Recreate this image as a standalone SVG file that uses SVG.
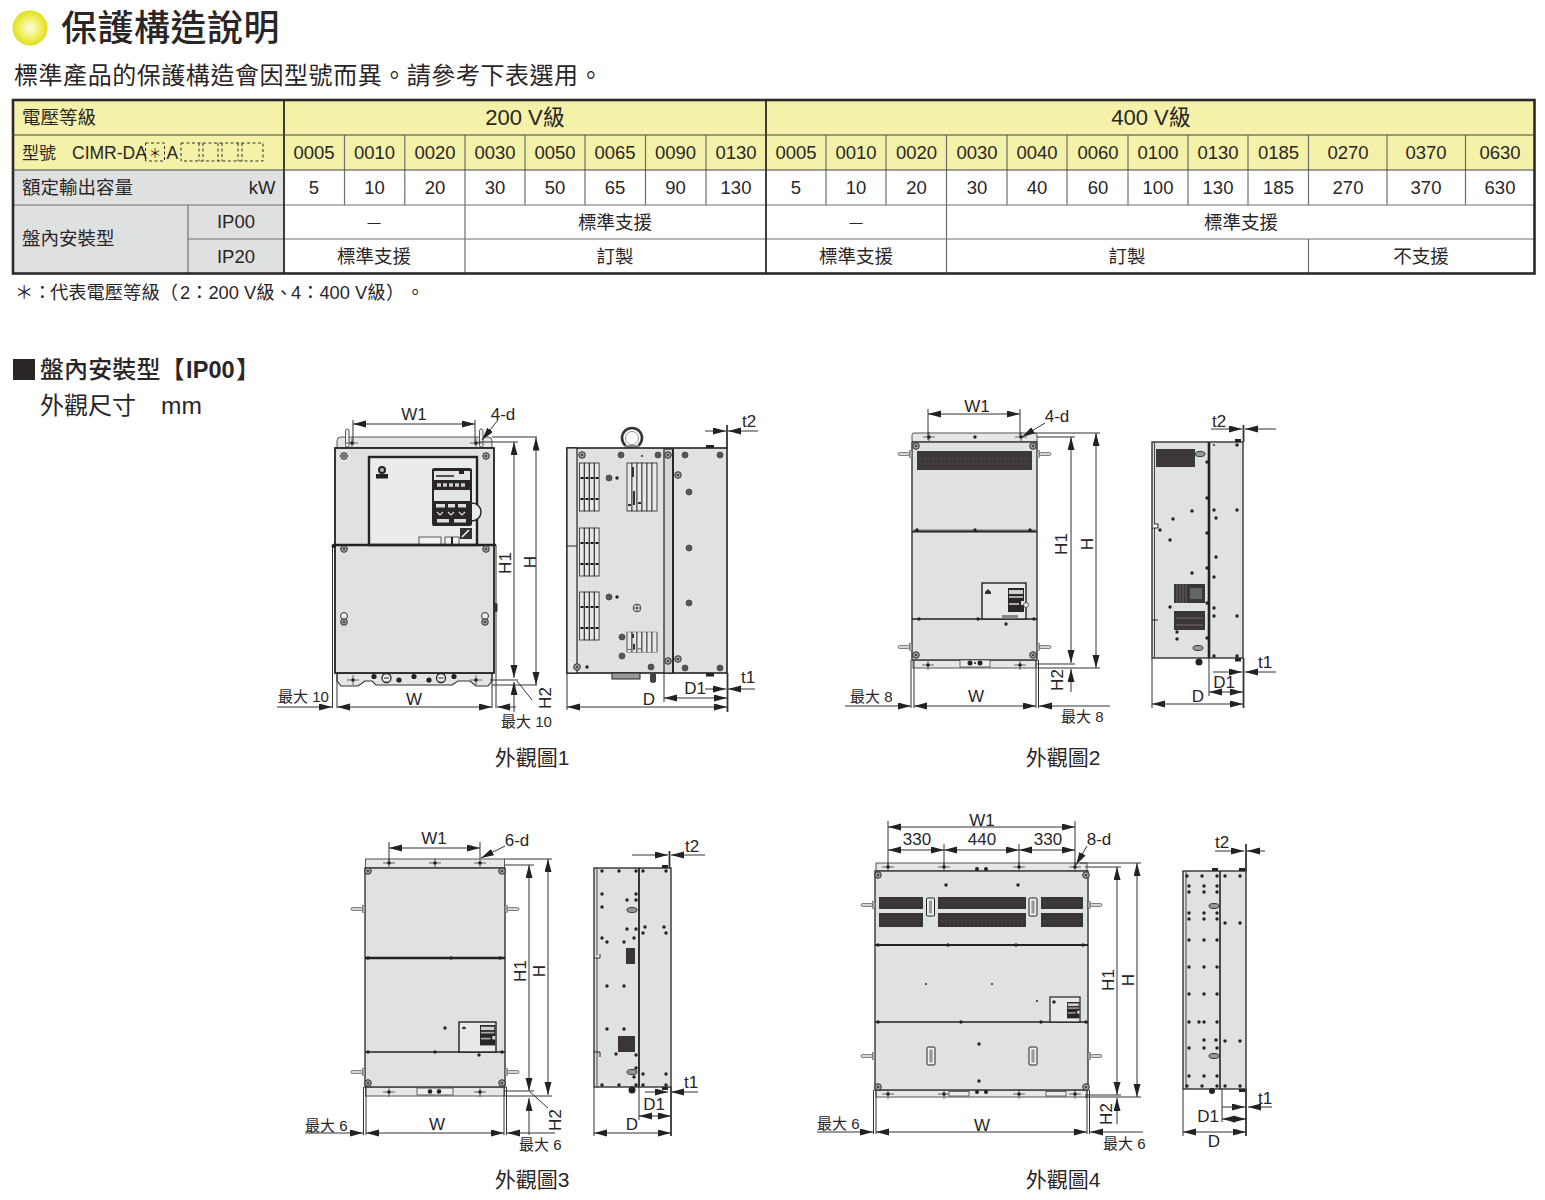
<svg xmlns="http://www.w3.org/2000/svg" width="1545" height="1200" viewBox="0 0 1545 1200">
<style>
text{font-family:"Liberation Sans","Noto Sans CJK TC",sans-serif;fill:#2a2526}
.m{text-anchor:middle}
.tb{font-size:18.5px}
.dt{font-size:17px;text-anchor:middle}
.mx{font-size:15px}
.cap{font-size:21px;text-anchor:middle}
.y{fill:#f4f1a9}.g{fill:#dfe0e0}.w{fill:#fff}
.in{stroke:#6f6f6f;stroke-width:1.2;fill:none}
.ou{stroke:#2b2829;stroke-width:2.6;fill:none}
.d{stroke:#333;stroke-width:1;fill:none;marker-start:url(#a);marker-end:url(#a)}
.s{stroke:#333;stroke-width:1;fill:none;marker-end:url(#a)}
.l{stroke:#333;stroke-width:1;fill:none}
.t{stroke:#333;stroke-width:1.8;fill:none}
.b{fill:#e0e1e1;stroke:#333;stroke-width:1.4}
.br{fill:#e6e6e6;stroke:#555;stroke-width:1}
.k{fill:#222}
.dk{fill:#3a3637}
.vs{fill:#e8e8e8;stroke:#222;stroke-width:.8}
</style>
<defs>
<radialGradient id="ball"><stop offset="0" stop-color="#fdfde8"/><stop offset=".55" stop-color="#f2f06a"/><stop offset="1" stop-color="#dfe01c"/></radialGradient>
<marker id="a" markerUnits="userSpaceOnUse" markerWidth="14" markerHeight="8" refX="13" refY="3.5" orient="auto-start-reverse"><path d="M0,0 L13,3.5 L0,7 z" fill="#222"/></marker>
<g id="sc"><circle r="3.3" fill="#9a9a9a" stroke="#333" stroke-width="1"/><circle r="1.1" fill="#333"/></g>
<g id="sd"><circle r="3" fill="#555" stroke="#444" stroke-width=".8"/></g>
<circle id="dot" r="1.7" fill="#222"/>
<circle id="sm" r="1.1" fill="#333"/>
<g id="cr"><path d="M-6,0H6M0,-5V5" stroke="#444" stroke-width=".8"/><circle r="1.8" fill="#222"/></g>
<g id="lugl"><rect x="-14" y="-1.5" width="12" height="3" rx="1.5" fill="#d4d4d4" stroke="#555" stroke-width=".7"/><rect x="-2.5" y="-3.5" width="2.5" height="7" fill="#aaa" stroke="#555" stroke-width=".5"/></g>
<g id="lugr"><rect x="2" y="-1.5" width="12" height="3" rx="1.5" fill="#d4d4d4" stroke="#555" stroke-width=".7"/><rect x="0" y="-3.5" width="2.5" height="7" fill="#aaa" stroke="#555" stroke-width=".5"/></g>
<g id="v4"><rect x="0" width="4.6" height="48" class="vs"/><rect x="5" width="4.6" height="48" class="vs"/><rect x="10" width="4.6" height="48" class="vs"/><rect x="15" width="4.6" height="48" class="vs"/><path d="M1,15h3M6,15h3M11,15h3M16,15h3M1,36h3M6,36h3M11,36h3M16,36h3" stroke="#111" stroke-width="2.2"/></g>
<g id="v6"><rect x="0" width="5" height="48" class="vs"/><rect x="5" width="5" height="48" class="vs"/><rect x="10" width="5" height="48" class="vs"/><rect x="15" width="5" height="48" class="vs"/><rect x="20" width="5" height="48" class="vs"/><rect x="25" width="5" height="48" class="vs"/><path d="M6,4v10M7,28v14M1,42h3M11,40h3" stroke="#333" stroke-width="2"/></g>
<g id="keys"><rect width="16" height="24" fill="#2a2627"/><rect x="1" y="2" width="14" height="4" fill="#cfcfcf"/><rect x="1" y="8" width="14" height="2" fill="#aaa"/><rect x="1" y="15" width="10" height="2" fill="#aaa"/><rect x="13" y="13" width="3" height="4" fill="#ddd"/></g>
<g id="hd"><rect x="-4" y="-9" width="8" height="18" rx="1" fill="#f1f1f1" stroke="#222" stroke-width="1"/><rect x="-1.6" y="-6.5" width="3.2" height="13" fill="#999"/></g>
<ellipse id="ov" rx="5" ry="2.5" fill="#999" stroke="#222" stroke-width=".9"/>
</defs>

<g id="heading">
<circle cx="30" cy="28" r="17.5" fill="url(#ball)"/>
<text x="61" y="41" font-size="36" font-weight="500" letter-spacing="0.5">保護構造說明</text>
<text x="14" y="84" font-size="24" letter-spacing="0.55">標準產品的保護構造會因型號而異。請參考下表選用。</text>
</g>

<g id="spec-table">
<rect x="12" y="99" width="1523" height="71" class="y"/>
<rect x="12" y="170" width="272" height="104" class="g"/>
<g class="in">
<path d="M284,205H1535M188,239H1535"/>
<path d="M344.5,135V205M404.8,135V205M525,135V205M585,135V205M645.5,135V205M706,135V205M826,135V205M886,135V205M1007,135V205M1067,135V205M1128,135V205M1188,135V205M1248,135V205M1308.5,135V205M1387,135V205M1465.5,135V205"/>
<path d="M465,135V274M946.5,135V274M1308.5,239V274M188,205V274"/>
<path d="M12,205H284"/>
</g>
<path d="M284,99V274M766,99V274" stroke="#2b2829" stroke-width="1.8" fill="none"/>
<rect x="13" y="100" width="1521.5" height="173.5" class="ou"/>
<path d="M12,135H1535M12,170H1535" stroke="#444" stroke-width="1.2"/>
<text x="22" y="124" class="tb">電壓等級</text>
<text x="525" y="125" font-size="22" class="m">200 V級</text>
<text x="1151" y="125" font-size="22" class="m">400 V級</text>
<text x="22" y="158.500" font-size="17">型號</text>
<text x="72" y="158.500" font-size="17.500">CIMR-DA</text>
<rect x="145.500" y="143" width="19" height="18" fill="none" stroke="#333" stroke-width="1" stroke-dasharray="3 2.500"/>
<text x="155" y="158" font-size="13" class="m">＊</text>
<text x="166.500" y="158.500" font-size="17.500">A</text>
<path d="M181,143H263V161H181ZM199,143v18M203,143v18M218,143v18M222,143v18M238,143v18M242,143v18" fill="none" stroke="#333" stroke-width="1" stroke-dasharray="3 2.500"/>
<g class="tb m">
<text x="314" y="158.500">0005</text><text x="374.500" y="158.500">0010</text><text x="435" y="158.500">0020</text><text x="495" y="158.500">0030</text><text x="555" y="158.500">0050</text><text x="615" y="158.500">0065</text><text x="675.500" y="158.500">0090</text><text x="736" y="158.500">0130</text>
<text x="796" y="158.500">0005</text><text x="856" y="158.500">0010</text><text x="916.500" y="158.500">0020</text><text x="977" y="158.500">0030</text><text x="1037" y="158.500">0040</text><text x="1098" y="158.500">0060</text><text x="1158" y="158.500">0100</text><text x="1218" y="158.500">0130</text><text x="1278.500" y="158.500">0185</text><text x="1348" y="158.500">0270</text><text x="1426" y="158.500">0370</text><text x="1500" y="158.500">0630</text>
<text x="314" y="193.500">5</text><text x="374.500" y="193.500">10</text><text x="435" y="193.500">20</text><text x="495" y="193.500">30</text><text x="555" y="193.500">50</text><text x="615" y="193.500">65</text><text x="675.500" y="193.500">90</text><text x="736" y="193.500">130</text>
<text x="796" y="193.500">5</text><text x="856" y="193.500">10</text><text x="916.500" y="193.500">20</text><text x="977" y="193.500">30</text><text x="1037" y="193.500">40</text><text x="1098" y="193.500">60</text><text x="1158" y="193.500">100</text><text x="1218" y="193.500">130</text><text x="1278.500" y="193.500">185</text><text x="1348" y="193.500">270</text><text x="1426" y="193.500">370</text><text x="1500" y="193.500">630</text>
<text x="236" y="228">IP00</text><text x="236" y="263">IP20</text>
<text x="615" y="228.500">標準支援</text><text x="1241" y="228.500">標準支援</text>
<text x="374" y="263">標準支援</text><text x="615" y="263">訂製</text><text x="856" y="263">標準支援</text><text x="1127" y="263">訂製</text><text x="1421" y="263">不支援</text>
</g>
<text x="374" y="227" font-size="13" class="m">—</text><text x="856" y="227" font-size="13" class="m">—</text>
<text x="22" y="194" class="tb">額定輸出容量</text>
<text x="262" y="193.500" class="tb m">kW</text>
<text x="22" y="245" class="tb">盤內安裝型</text>
</g>
<text id="table-note" y="299" font-size="18.300"><tspan x="15">＊：</tspan><tspan x="50">代表電壓等級（</tspan><tspan x="180">2：200 V級、</tspan><tspan x="291">4：400 V級</tspan><tspan x="386">）</tspan><tspan x="406">。</tspan></text>

<g id="section-head">
<rect x="13" y="359" width="22" height="21" fill="#2a2526"/>
<text x="40" y="378" font-size="24" font-weight="500" letter-spacing="0.1">盤內安裝型【<tspan x="186" font-weight="700" font-size="23.500">IP00</tspan><tspan x="236">】</tspan></text>
<text x="40" y="414" font-size="24">外觀尺寸</text>
<text x="161" y="414" font-size="24.500">mm</text>
</g>

<g id="outline-1">
<g id="o1-front">
<path d="M337,448V441Q337,437 341,437H488Q492,437 492,441V448Z" class="br"/>
<path d="M337,673V681L341,686H358L365,681H372L376,685H452L458,681H470L476,686H488L492,681V673Z" fill="#e4e4e4" stroke="#333" stroke-width="1.200"/>
<rect x="335" y="448" width="159" height="225" fill="#e0e1e1" stroke="#222" stroke-width="1.800"/>
<rect x="369" y="457" width="108" height="88" fill="#ebebeb" stroke="#222" stroke-width="2.400"/>
<path d="M333,545H496" stroke="#222" stroke-width="2.400"/>
<path d="M332.500,545V708M337,673V708M492,673V708M496,545V708" class="l"/>
<circle cx="472" cy="512" r="9" fill="#ebebeb" stroke="#222" stroke-width="1.400"/>
<rect x="432" y="468" width="40" height="58" rx="2" fill="#2a2627"/>
<rect x="434" y="471" width="36" height="9" fill="#e4e4e4"/><path d="M436,476h18" stroke="#222" stroke-width="1.500"/><rect x="459" y="471" width="5" height="3" fill="#222"/>
<path d="M437,485h28" stroke="#ccc" stroke-width="3.500" stroke-dasharray="4 2"/>
<rect x="434" y="490" width="36" height="11" fill="#e4e4e4"/>
<rect x="436" y="504" width="9" height="3.500" fill="#ddd"/><rect x="448" y="504" width="7" height="3.500" fill="#ddd"/><rect x="458" y="504" width="8" height="3.500" fill="#ddd"/>
<path d="M437,512l3,3l3,-3M448,512l3,3l3,-3M459,512l3,3l3,-3" stroke="#ddd" stroke-width="1.200" fill="none"/>
<rect x="437" y="519" width="12" height="3.500" fill="#ddd"/><rect x="454" y="519" width="12" height="3.500" fill="#ddd"/>
<circle cx="382" cy="470" r="3" fill="#bbb" stroke="#222" stroke-width="2"/><rect x="376" y="474" width="12" height="4.500" fill="#222"/>
<rect x="419" y="537" width="22" height="7" fill="#f2f2f2" stroke="#333" stroke-width=".8"/>
<rect x="445" y="537" width="14" height="7" fill="#f2f2f2" stroke="#333" stroke-width=".8"/><path d="M452,537v7" stroke="#222" stroke-width="2"/>
<rect x="460" y="528" width="12" height="11" fill="#333"/><path d="M462,537l7,-7" stroke="#fff" stroke-width="1.500"/>
<use href="#sc" x="344" y="456"/><use href="#sc" x="486" y="456"/><use href="#sc" x="344" y="549"/><use href="#sc" x="486" y="549"/>
<circle cx="344" cy="616" r="3.500" fill="#f1f1f1" stroke="#333"/><use href="#sc" x="344" y="622"/>
<circle cx="485" cy="616" r="3.500" fill="#f1f1f1" stroke="#333"/><use href="#sc" x="485" y="622"/>
<rect x="494" y="603" width="3.500" height="9" rx="1.500" fill="#333"/>
<circle cx="333.500" cy="546" r="2" fill="#222"/>
<rect x="345.500" y="429" width="3.500" height="18" rx="1.700" fill="#eee" stroke="#444" stroke-width=".9"/>
<rect x="479.500" y="429" width="3.500" height="18" rx="1.700" fill="#eee" stroke="#444" stroke-width=".9"/>
<use href="#cr" x="352" y="443"/><use href="#cr" x="476" y="443"/><use href="#cr" x="353" y="680"/><use href="#cr" x="476" y="680"/>
<circle cx="386.500" cy="678" r="4.500" fill="#eee" stroke="#222" stroke-width="1.300"/><path d="M384,678h5" stroke="#222"/>
<circle cx="441" cy="678" r="4.500" fill="#eee" stroke="#222" stroke-width="1.300"/><path d="M438.500,678h5" stroke="#222"/>
<circle cx="374" cy="676.500" r="2.600" class="k"/><circle cx="399" cy="680" r="2.600" class="k"/><circle cx="414" cy="676.500" r="2.600" class="k"/><circle cx="429" cy="680" r="2.600" class="k"/><circle cx="454" cy="676.500" r="2.600" class="k"/>
</g>
<g id="o1-side">
<circle cx="632" cy="438" r="10" fill="#fff" stroke="#333" stroke-width="2.600"/><circle cx="632" cy="438" r="6.500" fill="#fff" stroke="#777" stroke-width=".8"/><rect x="625" y="445" width="14" height="3.500" fill="#888"/>
<rect x="567" y="448" width="160" height="225" fill="#e0e1e1" stroke="#222" stroke-width="1.600"/>
<rect x="567" y="448" width="10" height="225" fill="#e9e9e9" stroke="#222" stroke-width="1.200"/>
<path d="M567,546H577" stroke="#222"/>
<rect x="664" y="449" width="9" height="224" fill="#d5d5d5" stroke="#222" stroke-width="1.200"/>
<path d="M673,449V673" stroke="#222" stroke-width="1.800"/>
<use href="#v4" x="579.500" y="463"/><use href="#v4" x="579.500" y="528"/><use href="#v4" x="579.500" y="592"/>
<use href="#v6" x="627" y="463"/>
<g transform="translate(627,632) scale(1,.42)"><use href="#v6"/></g>
<use href="#sc" x="582" y="455"/><use href="#sd" x="621" y="455"/><use href="#sd" x="658" y="455"/><use href="#sm" x="642" y="456"/><use href="#sc" x="668" y="455"/><use href="#sd" x="685" y="455"/><use href="#sd" x="720" y="455"/>
<use href="#sc" x="678" y="475"/><use href="#sd" x="689" y="492"/><use href="#sd" x="689" y="548"/><use href="#sd" x="689" y="603"/><use href="#sc" x="678" y="659"/><use href="#sc" x="668" y="661"/><use href="#sd" x="685" y="668"/><use href="#sd" x="720" y="668"/>
<use href="#sd" x="609" y="478"/><use href="#sd" x="609" y="597"/><use href="#dot" x="617" y="478"/><use href="#dot" x="617" y="597"/><use href="#sd" x="622" y="637"/><use href="#sd" x="622" y="656"/><use href="#sd" x="651" y="667"/><use href="#sc" x="577" y="667"/><use href="#dot" x="587" y="667"/>
<circle cx="637" cy="608" r="3.800" fill="#eee" stroke="#222" stroke-width=".9"/><path d="M634,608h6M637,605v6" stroke="#222" stroke-width=".8"/>
<rect x="612" y="673" width="28" height="6" fill="#999" stroke="#222"/><rect x="650" y="673" width="6" height="9" fill="#444"/><circle cx="653" cy="680" r="3" fill="#444"/>
<rect x="706" y="445" width="8" height="3" class="k"/><rect x="706" y="673" width="8" height="3.500" class="k"/>
</g>
</g>

<g id="outline-2">
<g id="o2-front">
<rect x="912" y="433" width="125" height="9" rx="2" class="br"/>
<rect x="913" y="660" width="123" height="8" class="br"/>
<rect x="912" y="442" width="125" height="218" class="b"/>
<use href="#lugl" x="912" y="454"/><use href="#lugr" x="1037" y="454"/><use href="#lugl" x="912" y="647"/><use href="#lugr" x="1037" y="647"/>
<rect x="917" y="451" width="115" height="19" fill="#3c3738"/><path d="M920,459H1029M920,464H1029" stroke="#555" stroke-width=".8" stroke-dasharray="2 2"/>
<path d="M912,531H1037" stroke="#222" stroke-width="3"/><path d="M912,530H1037" stroke="#eee" stroke-width=".7"/>
<path d="M912,619H1037" stroke="#222" stroke-width="1.400"/>
<rect x="982" y="583" width="44" height="36" fill="#e8e8e8" stroke="#222" stroke-width="1.400"/>
<use href="#keys" x="1008" y="588"/><rect x="1002" y="615" width="16" height="3.500" fill="#888"/><circle cx="1026" cy="605" r="2.500" fill="#eee" stroke="#222" stroke-width=".7"/>
<path d="M985,592l3,-3l3,3v2h-6z" fill="#333"/>
<use href="#sc" x="916" y="446"/><use href="#sc" x="1033" y="446"/><use href="#sc" x="916" y="655"/><use href="#sc" x="1033" y="655"/>
<use href="#cr" x="929" y="437"/><use href="#cr" x="1021" y="437"/><use href="#dot" x="975" y="437"/><use href="#cr" x="928" y="665"/><use href="#cr" x="1020" y="665"/>
<use href="#dot" x="917" y="530"/><use href="#dot" x="975" y="530"/><use href="#dot" x="1030" y="530"/><use href="#dot" x="919" y="619"/><use href="#dot" x="978" y="619"/><use href="#dot" x="1034" y="619"/><use href="#dot" x="1006" y="624"/>
<rect x="960" y="660" width="30" height="7" fill="#eee" stroke="#444" stroke-width=".8"/><circle cx="970" cy="663" r="2.500" class="k"/><circle cx="980" cy="663" r="2.500" class="k"/><circle cx="975" cy="663" r="1" class="k"/>
<path d="M911,660V708M914,660V708M1036,660V708M1038.500,660V708" class="l"/>
</g>
<g id="o2-side">
<rect x="1152" y="442" width="91" height="216" class="b"/>
<path d="M1154.500,442V658" stroke="#444"/>
<path d="M1209,442V658" stroke="#222" stroke-width="2.600"/>
<rect x="1156" y="449" width="39" height="18" fill="#3c3738"/>
<rect x="1174" y="584" width="31" height="19" fill="#3a3637"/><path d="M1177,584v19M1180,584v19M1183,584v19M1186,584v19" stroke="#888" stroke-width=".6"/><rect x="1190" y="588" width="12" height="11" fill="#666"/>
<rect x="1174" y="611" width="31" height="19" fill="#3a3637"/><path d="M1176,618h27M1176,625h27" stroke="#888" stroke-width=".7"/>
<use href="#sm" x="1214" y="445"/><use href="#dot" x="1237" y="445"/><use href="#dot" x="1214" y="510"/><use href="#dot" x="1237" y="510"/><use href="#dot" x="1216" y="518"/><use href="#dot" x="1216" y="557"/><use href="#dot" x="1214" y="577"/><use href="#dot" x="1214" y="608"/><use href="#dot" x="1214" y="616"/><use href="#dot" x="1237" y="616"/><use href="#dot" x="1214" y="656"/><use href="#dot" x="1237" y="656"/>
<use href="#dot" x="1192" y="511"/><use href="#dot" x="1192" y="573"/><use href="#dot" x="1207" y="462"/><use href="#dot" x="1207" y="498"/><use href="#dot" x="1207" y="533"/><use href="#dot" x="1207" y="568"/><use href="#dot" x="1207" y="603"/><use href="#dot" x="1207" y="638"/>
<use href="#dot" x="1173" y="519"/><use href="#dot" x="1160" y="530"/><use href="#dot" x="1170" y="540"/><use href="#dot" x="1170" y="607"/><use href="#dot" x="1177" y="632"/><use href="#dot" x="1177" y="639"/>
<use href="#ov" x="1200" y="454"/><use href="#ov" x="1198" y="648"/>
<path d="M1152,528h6v-4h-3" stroke="#222" fill="#fff"/><path d="M1152,620h6" stroke="#222"/>
<circle cx="1199" cy="662" r="3.500" class="k"/><rect x="1235" y="439" width="6" height="3" class="k"/><rect x="1235" y="658" width="6" height="3.500" class="k"/>
</g>
</g>

<g id="outline-3">
<g id="o3-front">
<rect x="365.500" y="859" width="139" height="9" class="br"/>
<rect x="365.500" y="1087" width="139" height="9" class="br"/>
<rect x="365" y="868" width="140" height="219" class="b"/>
<use href="#lugl" x="365" y="909"/><use href="#lugr" x="505" y="909"/><use href="#lugl" x="365" y="1072"/><use href="#lugr" x="505" y="1072"/>
<path d="M365,958H505" stroke="#222" stroke-width="2.600"/><path d="M365,1052H505" stroke="#222" stroke-width="1.400"/>
<rect x="459" y="1022" width="37" height="30" fill="#e8e8e8" stroke="#222" stroke-width="1.400"/>
<g transform="translate(480,1025) scale(.95,.85)"><use href="#keys"/></g><path d="M462,1028l2,-2l2,2v1h-4z" fill="#333"/>
<use href="#dot" x="445" y="1028"/><use href="#dot" x="479" y="1055"/>
<use href="#cr" x="389" y="863"/><use href="#cr" x="435" y="863"/><use href="#cr" x="480" y="863"/><use href="#cr" x="389" y="1092"/><use href="#cr" x="480" y="1092"/>
<use href="#sc" x="368" y="871"/><use href="#sc" x="502" y="871"/><use href="#sc" x="368" y="1083"/><use href="#sc" x="502" y="1083"/>
<use href="#dot" x="368" y="958"/><use href="#dot" x="451" y="958"/><use href="#dot" x="500" y="958"/><use href="#dot" x="368" y="1052"/><use href="#dot" x="435" y="1052"/><use href="#dot" x="502" y="1052"/>
<rect x="417" y="1088" width="36" height="7" fill="#eee" stroke="#444" stroke-width=".8"/><circle cx="430" cy="1091.500" r="2.300" class="k"/><circle cx="439" cy="1091.500" r="2.300" class="k"/>
<path d="M363.500,1087V1135M366,1087V1135M504,1087V1135M506.500,1087V1135" class="l"/>
</g>
<g id="o3-side">
<rect x="594" y="868" width="77" height="219" class="b"/>
<path d="M597,868V1087" stroke="#444"/><path d="M639,868V1087" stroke="#222" stroke-width="1.800"/>
<rect x="626" y="948" width="9" height="16" class="dk"/><rect x="618" y="1036" width="17" height="16" class="dk"/>
<use href="#dot" x="602" y="871"/><use href="#dot" x="619" y="871"/><use href="#dot" x="636" y="871"/><use href="#dot" x="643" y="871"/><use href="#dot" x="666" y="871"/>
<use href="#dot" x="602" y="1085"/><use href="#dot" x="619" y="1085"/><use href="#dot" x="636" y="1085"/><use href="#dot" x="643" y="1085"/><use href="#dot" x="666" y="1085"/>
<use href="#dot" x="602" y="894"/><use href="#dot" x="602" y="907"/><use href="#dot" x="627" y="900"/><use href="#dot" x="636" y="894"/><use href="#dot" x="636" y="900"/><use href="#dot" x="627" y="929"/><use href="#dot" x="636" y="929"/><use href="#dot" x="634" y="938"/><use href="#dot" x="602" y="938"/><use href="#dot" x="607" y="942"/><use href="#dot" x="624" y="942"/><use href="#dot" x="645" y="927"/><use href="#dot" x="643" y="933"/><use href="#dot" x="664" y="927"/><use href="#dot" x="666" y="933"/><use href="#dot" x="607" y="986"/><use href="#dot" x="624" y="986"/><use href="#dot" x="607" y="1029"/><use href="#dot" x="624" y="1029"/><use href="#dot" x="616" y="1054"/><use href="#dot" x="636" y="1055"/><use href="#dot" x="643" y="1074"/><use href="#dot" x="666" y="1074"/><use href="#dot" x="636" y="1068"/><use href="#dot" x="634" y="1077"/>
<use href="#ov" x="632" y="910"/><use href="#ov" x="632" y="1072"/>
<path d="M594,958h6v-4" stroke="#222" fill="#fff"/><path d="M594,1052h6v5" stroke="#222" fill="none"/>
<circle cx="632" cy="1090" r="3.500" class="k"/><rect x="662" y="865" width="6" height="3" class="k"/><rect x="662" y="1087" width="6" height="3" class="k"/>
</g>
</g>

<g id="outline-4">
<g id="o4-front">
<rect x="876" y="863" width="211" height="8" class="br"/>
<rect x="876" y="1090" width="211" height="7" class="br"/>
<rect x="875" y="871" width="213" height="219" class="b"/>
<use href="#lugl" x="875" y="905"/><use href="#lugr" x="1088" y="905"/><use href="#lugl" x="875" y="1056"/><use href="#lugr" x="1088" y="1056"/>
<g class="dk"><rect x="879" y="897" width="44" height="12"/><rect x="938" y="897" width="88" height="12"/><rect x="1041" y="897" width="42" height="12"/><rect x="879" y="913" width="44" height="14"/><rect x="938" y="913" width="88" height="14"/><rect x="1041" y="913" width="42" height="14"/></g>
<path d="M882,902H920M941,902H1023M1044,902H1080M882,921H920M941,921H1023M1044,921H1080" stroke="#5a5a5a" stroke-width=".7" stroke-dasharray="2 2"/>
<use href="#hd" x="930.500" y="907"/><use href="#hd" x="1033" y="907"/><use href="#hd" x="931" y="1056"/><use href="#hd" x="1033" y="1056"/>
<path d="M875,945H1088" stroke="#222" stroke-width="1.800"/><path d="M875,1022H1088" stroke="#222" stroke-width="1.400"/>
<rect x="1050" y="997" width="30" height="25" fill="#e8e8e8" stroke="#222" stroke-width="1.200"/>
<g transform="translate(1067,1002) scale(.78,.68)"><use href="#keys"/></g><use href="#dot" x="1054" y="1002"/>
<use href="#cr" x="888" y="867"/><use href="#cr" x="944" y="867"/><use href="#cr" x="1019" y="867"/><use href="#cr" x="1075" y="867"/><use href="#cr" x="888" y="1094"/><use href="#cr" x="944" y="1094"/><use href="#cr" x="1019" y="1094"/><use href="#cr" x="1075" y="1094"/>
<use href="#sc" x="878" y="875"/><use href="#sc" x="1086" y="875"/><use href="#sc" x="878" y="1087"/><use href="#sc" x="1086" y="1087"/>
<use href="#dot" x="946" y="885"/><use href="#dot" x="1018" y="885"/><use href="#dot" x="878" y="945"/><use href="#dot" x="948" y="945"/><use href="#dot" x="1016" y="945"/><use href="#dot" x="1083" y="945"/>
<use href="#sm" x="926" y="984"/><use href="#sm" x="992" y="984"/><use href="#sm" x="1037" y="1001"/><use href="#dot" x="878" y="1022"/><use href="#dot" x="961" y="1022"/><use href="#dot" x="1041" y="1022"/><use href="#dot" x="1086" y="1022"/><use href="#dot" x="979" y="1044"/><use href="#dot" x="979" y="1081"/>
<rect x="949" y="1091.500" width="20" height="4.500" fill="#eee" stroke="#444" stroke-width=".8"/><rect x="1046" y="1091.500" width="20" height="4.500" fill="#eee" stroke="#444" stroke-width=".8"/><circle cx="977" cy="1092" r="2" class="k"/><circle cx="986" cy="1092" r="2" class="k"/><circle cx="977" cy="869" r="2" class="k"/><circle cx="986" cy="869" r="2" class="k"/>
<path d="M873.500,1090V1134M876,1090V1134M1087,1090V1134M1089.500,1090V1134" class="l"/>
</g>
<g id="o4-side">
<rect x="1183" y="871" width="63" height="218" class="b"/>
<path d="M1186,871V1089" stroke="#444"/><path d="M1220,871V1089" stroke="#222" stroke-width="1.600"/>
<g id="o4-grid"><use href="#dot" x="1187" y="876"/><use href="#dot" x="1202" y="876"/><use href="#dot" x="1217" y="876"/><use href="#dot" x="1225" y="876"/><use href="#dot" x="1240" y="876"/><use href="#dot" x="1187" y="1086"/><use href="#dot" x="1202" y="1086"/><use href="#dot" x="1217" y="1086"/><use href="#dot" x="1225" y="1086"/><use href="#dot" x="1240" y="1086"/>
<use href="#dot" x="1189" y="886"/><use href="#dot" x="1204" y="886"/><use href="#dot" x="1217" y="886"/><use href="#dot" x="1189" y="892"/><use href="#dot" x="1204" y="892"/><use href="#dot" x="1217" y="892"/><use href="#dot" x="1189" y="913"/><use href="#dot" x="1204" y="913"/><use href="#dot" x="1217" y="913"/><use href="#dot" x="1189" y="919"/><use href="#dot" x="1204" y="919"/><use href="#dot" x="1217" y="919"/><use href="#dot" x="1189" y="940"/><use href="#dot" x="1204" y="940"/><use href="#dot" x="1217" y="940"/><use href="#dot" x="1189" y="967"/><use href="#dot" x="1204" y="967"/><use href="#dot" x="1217" y="967"/><use href="#dot" x="1189" y="994"/><use href="#dot" x="1204" y="994"/><use href="#dot" x="1217" y="994"/><use href="#dot" x="1189" y="1022"/><use href="#dot" x="1199" y="1022"/><use href="#dot" x="1204" y="1022"/><use href="#dot" x="1217" y="1022"/><use href="#dot" x="1204" y="1040"/><use href="#dot" x="1216" y="1040"/><use href="#dot" x="1189" y="1048"/><use href="#dot" x="1204" y="1048"/><use href="#dot" x="1217" y="1048"/><use href="#dot" x="1189" y="1076"/><use href="#dot" x="1204" y="1076"/><use href="#dot" x="1217" y="1076"/><use href="#dot" x="1225" y="923"/><use href="#dot" x="1240" y="923"/><use href="#dot" x="1225" y="1041"/><use href="#dot" x="1240" y="1041"/></g>
<use href="#ov" x="1214" y="906"/><use href="#ov" x="1214" y="1056"/>
<circle cx="1212" cy="1091" r="3" class="k"/><rect x="1212" y="868" width="6" height="3" class="k"/><rect x="1239" y="868" width="6" height="3" class="k"/><rect x="1239" y="1089" width="6" height="3" class="k"/>
</g>
</g>

<g id="connectors">
<g id="dims-1">
<path d="M353,420V445M475,420V445M492,437H537M478,442H518M490,680H518M492,685H537M567,673V710M664,673V702" class="l"/>
<path d="M727,425V448M727.500,673V712" class="t"/>
<path d="M353,424H475" class="d"/><path d="M498,420L482,440" class="s"/>
<path d="M536,437.500V685" class="d"/><path d="M514,442V678" class="d"/><path d="M514,712V682" class="s"/><path d="M517,681L532,700" class="l"/>
<path d="M337,707H492" class="d"/><path d="M277,707H332" class="s"/><path d="M516,707H497" class="s"/>
<path d="M567,707H727" class="d"/><path d="M664,698H727" class="d"/>
<path d="M705,689H726" class="s"/><path d="M755,689H728" class="s"/><path d="M705,431H726" class="s"/><path d="M758,431H728" class="s"/>
</g>
<g id="dims-2">
<path d="M928,409V440M1020,409V437M1030,433H1100M1037,437H1075M1037,664H1075M1037,668H1100M1152,658V708M1209,658V696" class="l"/>
<path d="M1243.500,425V442M1243.500,658V708" class="t"/>
<path d="M928,414H1020" class="d"/><path d="M1045,423L1022,437" class="s"/>
<path d="M1096,433V668" class="d"/><path d="M1071,437V663" class="d"/><path d="M1071,692V669" class="s"/>
<path d="M914,706H1036" class="d"/><path d="M845,706H911" class="s"/><path d="M1110,706H1039" class="s"/>
<path d="M1152,704H1243" class="d"/><path d="M1209,692H1243" class="d"/>
<path d="M1213,672H1242" class="s"/><path d="M1276,672H1245" class="s"/><path d="M1211,429H1242" class="s"/><path d="M1276,429H1245" class="s"/>
</g>
<g id="dims-3">
<path d="M389,842V862M480,842V858M505,859H552M505,865H534M505,1091H534M505,1096H552M594,1087V1136M639,1087V1120" class="l"/>
<path d="M669.500,851V868M671,1087V1136" class="t"/>
<path d="M389,848H480" class="d"/><path d="M505,846L481,858" class="s"/>
<path d="M548,859V1095" class="d"/><path d="M529,865V1091" class="d"/><path d="M529,1135V1098" class="s"/><path d="M530,1092L548,1108" class="l"/>
<path d="M366,1133H504" class="d"/><path d="M305,1133H363" class="s"/><path d="M555,1133H507" class="s"/>
<path d="M594,1133H671" class="d"/><path d="M639,1116H671" class="d"/>
<path d="M645,1092H668" class="s"/><path d="M698,1092H671" class="s"/><path d="M632,855H668" class="s"/><path d="M705,855H671" class="s"/>
</g>
<g id="dims-4">
<path d="M888,821V866M1075,821V866M944,844V866M1019,844V866M1080,863H1141M1085,867H1121M1085,1095H1121M1085,1097H1141M1183,1089V1136M1222,1089V1122" class="l"/>
<path d="M1246,844V871M1246,1089V1136" class="t"/>
<path d="M888,827H1075" class="d"/><path d="M888,850H944" class="d"/><path d="M944,850H1019" class="d"/><path d="M1019,850H1075" class="d"/><path d="M1087,846L1076,865" class="s"/>
<path d="M1137,863V1097" class="d"/><path d="M1117,867V1095" class="d"/><path d="M1117,1124V1098" class="s"/>
<path d="M876,1132H1087" class="d"/><path d="M817,1132H873" class="s"/><path d="M1143,1132H1090" class="s"/>
<path d="M1183,1132H1246" class="d"/><path d="M1222,1119H1246" class="d"/>
<path d="M1222,1107H1245" class="s"/><path d="M1272,1107H1248" class="s"/><path d="M1215,851H1244" class="s"/><path d="M1265,851H1247" class="s"/>
</g>
</g>

<g id="labels">
<g class="dt">
<text x="414" y="420">W1</text><text x="503" y="420">4-d</text><text x="414" y="705">W</text><text x="649" y="705">D</text><text x="695" y="694">D1</text><text x="748" y="683">t1</text><text x="749" y="427">t2</text>
<text transform="rotate(-90 511 563)" x="511" y="563">H1</text><text transform="rotate(-90 536 562)" x="536" y="562">H</text><text transform="rotate(-90 551 698)" x="551" y="698">H2</text>
<text x="977" y="412">W1</text><text x="1057" y="422">4-d</text><text x="976" y="702">W</text><text x="1198" y="702">D</text><text x="1224" y="688">D1</text><text x="1265" y="668">t1</text><text x="1219" y="427">t2</text>
<text transform="rotate(-90 1067 544)" x="1067" y="544">H1</text><text transform="rotate(-90 1093 544)" x="1093" y="544">H</text><text transform="rotate(-90 1063 680)" x="1063" y="680">H2</text>
<text x="434" y="844">W1</text><text x="517" y="846">6-d</text><text x="437" y="1130">W</text><text x="632" y="1130">D</text><text x="654" y="1110">D1</text><text x="691" y="1088">t1</text><text x="692" y="852">t2</text>
<text transform="rotate(-90 526 971)" x="526" y="971">H1</text><text transform="rotate(-90 545 971)" x="545" y="971">H</text><text transform="rotate(-90 561 1120)" x="561" y="1120">H2</text>
<text x="982" y="826">W1</text><text x="917" y="845">330</text><text x="982" y="845">440</text><text x="1048" y="845">330</text><text x="1099" y="845">8-d</text><text x="982" y="1131">W</text><text x="1214" y="1147">D</text><text x="1208" y="1122">D1</text><text x="1265" y="1104">t1</text><text x="1222" y="848">t2</text>
<text transform="rotate(-90 1114 980)" x="1114" y="980">H1</text><text transform="rotate(-90 1134 980)" x="1134" y="980">H</text><text transform="rotate(-90 1112 1114)" x="1112" y="1114">H2</text>
</g>
<g class="mx">
<text x="278" y="702">最大 10</text><text x="501" y="727">最大 10</text>
<text x="850" y="702">最大 8</text><text x="1061" y="722">最大 8</text>
<text x="305" y="1131">最大 6</text><text x="519" y="1150">最大 6</text>
<text x="817" y="1129">最大 6</text><text x="1103" y="1149">最大 6</text>
</g>
<g class="cap">
<text x="532" y="765">外觀圖1</text><text x="1063" y="765">外觀圖2</text><text x="532" y="1187">外觀圖3</text><text x="1063" y="1187">外觀圖4</text>
</g>
</g>
</svg>
